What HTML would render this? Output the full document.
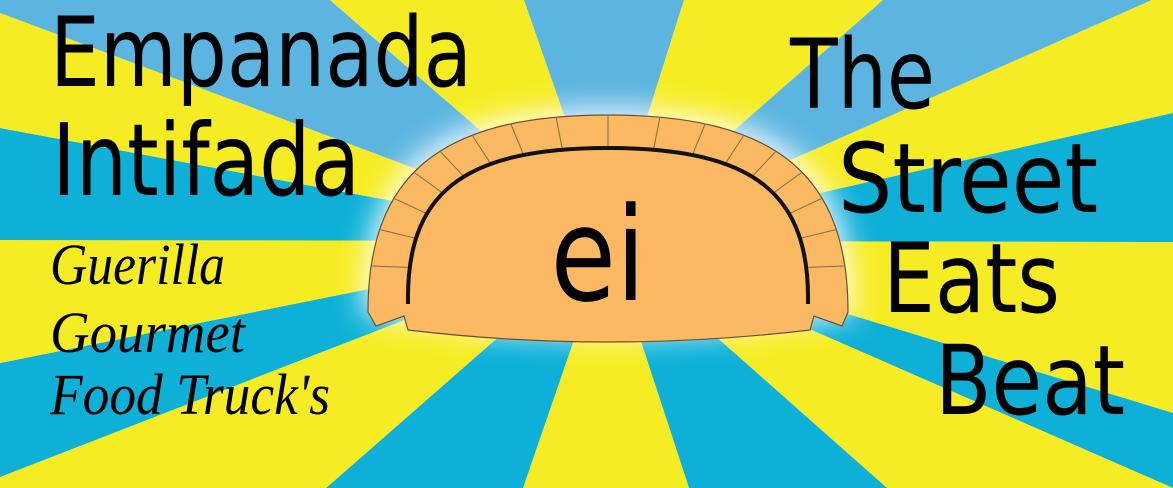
<!DOCTYPE html>
<html><head><meta charset="utf-8"><style>
html,body{margin:0;padding:0;background:#fff}
svg{display:block}
.big{font-family:"DejaVu Sans Condensed","DejaVu Sans","Liberation Sans",sans-serif;fill:#000}
.sm{font-family:"Liberation Serif",serif;font-style:italic;fill:#000}
</style></head><body>
<svg id="banner" width="1173" height="488" viewBox="0 0 1173 488" xmlns="http://www.w3.org/2000/svg">
<defs>
<filter id="blur" x="-30%" y="-30%" width="160%" height="160%"><feGaussianBlur stdDeviation="14"/></filter>
</defs>
<g id="rays"></g>
<path d="M362,316 C360,165 435,108 608,108 C781,108 856,165 854,316 Q608,360 362,316 Z" fill="#ffffff" opacity="0.85" filter="url(#blur)"/>
<path d="M368,312 C368,175 440,115 608,115 C776,115 848,175 848,312 L842,326 L814,316 L810,330 Q608,354 408,330 L404,316 L376,326 Z" fill="#fbb964" stroke="#6b5030" stroke-width="1.2"/>
<g id="ribs"></g>
<path d="M408,304 C406,195 460,148 608,148 C756,148 810,195 808,304" fill="none" stroke="#111" stroke-width="4"/>
<text x="598" y="300" text-anchor="middle" class="big" font-size="130" textLength="95" lengthAdjust="spacingAndGlyphs">ei</text>
<text class="big" x="50" y="86" font-size="96" textLength="422" lengthAdjust="spacingAndGlyphs">Empanada</text>
<text class="big" x="52" y="195" font-size="100" textLength="308" lengthAdjust="spacingAndGlyphs">Intifada</text>
<text class="sm" x="50" y="284" font-size="58" textLength="175" lengthAdjust="spacingAndGlyphs">Guerilla</text>
<text class="sm" x="50" y="352" font-size="58" textLength="195" lengthAdjust="spacingAndGlyphs">Gourmet</text>
<text class="sm" x="50" y="414" font-size="58" textLength="280" lengthAdjust="spacingAndGlyphs">Food Truck's</text>
<text class="big" x="790" y="108" font-size="96" textLength="145" lengthAdjust="spacingAndGlyphs">The</text>
<text class="big" x="838" y="212" font-size="96" textLength="260" lengthAdjust="spacingAndGlyphs">Street</text>
<text class="big" x="883" y="312" font-size="96" textLength="177" lengthAdjust="spacingAndGlyphs">Eats</text>
<text class="big" x="935" y="414" font-size="96" textLength="190" lengthAdjust="spacingAndGlyphs">Beat</text>
</svg>
<script>
const rayPoints=[[0,13],[330,0],[524,0],[684,0],[883,0],[1152,0],[1173,113],[1173,242],[1173,413],[1173,488],[887,488],[689,488],[523,488],[326,488],[0,477],[0,363],[0,240],[0,128]];
const rayColors=["#5bb5e0","#f6ec23","#5bb5e0","#f6ec23","#5bb5e0","#f6ec23","#0eb0d8","#f6ec23","#0eb0d8","#f6ec23","#0eb0d8","#f6ec23","#0eb0d8","#f6ec23","#0eb0d8","#f6ec23","#0eb0d8","#f6ec23"];
const NS="http://www.w3.org/2000/svg";
const cx=608,cy=241;
const rays=document.getElementById('rays');
function corners(a,b){
  const per=p=>{const [x,y]=p;if(y===0&&x<1173)return x;if(x===1173&&y<488)return 1173+y;if(y===488&&x>0)return 1173+488+(1173-x);return 1173*2+488+(488-y);};
  const cs=[[1173,0],[1173,488],[0,488],[0,0]];
  let pa=per(a),pb=per(b);const L=2*(1173+488);if(pb<pa)pb+=L;
  const out=[];
  cs.forEach(c=>{let pc=per(c);if(pc<pa)pc+=L;if(pc>pa&&pc<pb)out.push([pc,c]);});
  out.sort((m,n)=>m[0]-n[0]);return out.map(o=>o[1]);
}
for(let i=0;i<rayPoints.length;i++){
  const a=rayPoints[i],b=rayPoints[(i+1)%rayPoints.length];
  const pts=[[cx,cy],a,...corners(a,b),b];
  const p=document.createElementNS(NS,'polygon');
  p.setAttribute('points',pts.map(q=>q.join(',')).join(' '));
  p.setAttribute('fill',rayColors[i]);
  
  
  rays.appendChild(p);
}
function bez(p0,p1,p2,p3,t){const u=1-t;return [u*u*u*p0[0]+3*u*u*t*p1[0]+3*u*t*t*p2[0]+t*t*t*p3[0],u*u*u*p0[1]+3*u*u*t*p1[1]+3*u*t*t*p2[1]+t*t*t*p3[1]];}
const outerL=[[368,312],[368,175],[440,115],[608,115]],outerR=[[608,115],[776,115],[848,175],[848,312]];
const innerL=[[408,304],[406,195],[460,148],[608,148]],innerR=[[608,148],[756,148],[810,195],[808,304]];
const ribs=document.getElementById('ribs');
function rib(o,i,t){
  const a=bez(...o,t),b=bez(...i,t);
  const l=document.createElementNS(NS,'line');
  l.setAttribute('x1',a[0]);l.setAttribute('y1',a[1]);l.setAttribute('x2',b[0]);l.setAttribute('y2',b[1]);
  l.setAttribute('stroke','#8a6a40');l.setAttribute('stroke-width','1');
  
  
  ribs.appendChild(l);
}
for(let t=0.12;t<1.0;t+=0.11){rib(outerL,innerL,t);rib(outerR,innerR,1-t);}
</script>
</body></html>
